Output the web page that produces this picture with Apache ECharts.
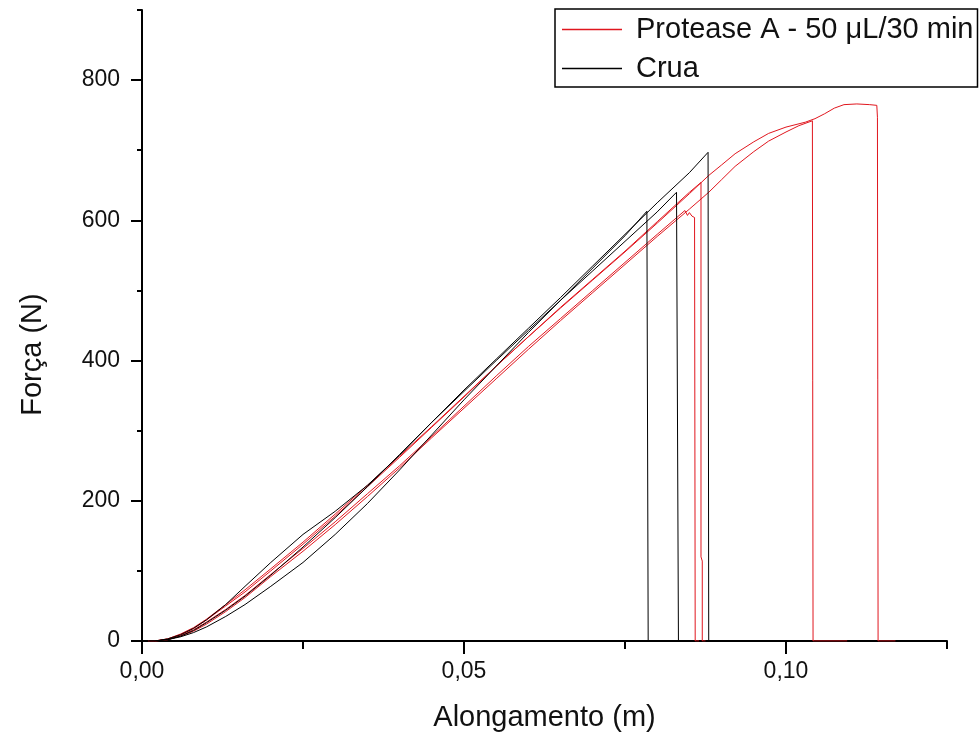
<!DOCTYPE html>
<html>
<head>
<meta charset="utf-8">
<script src="https://cdn.jsdelivr.net/npm/echarts@6/dist/echarts.min.js"></script>
<style>
  html, body { margin: 0; padding: 0; background: #fff; }
  #chart { width: 980px; height: 742px; }
</style>
</head>
<body>
<div id="chart"></div>
<script>
// tick values
const yMajorTicks = [0, 200, 400, 600, 800];
const yMinorTicks = [100, 300, 500, 700, 900];
const xMajorTicks = [0, 0.05, 0.10];
const xMinorTicks = [0.025, 0.075, 0.125];

const proteaseName = 'Protease A - 50 \u03bcL/30 min';
const cruaName = 'Crua';

// Protease A specimens, [alongamento (m), força (N)]
const proteaseA1 = [[0.001,0],[0.002,0],[0.004,2],[0.006,8],[0.008,16],[0.010,27],[0.013,45],[0.016,65],[0.020,95],[0.025,132],[0.030,170],[0.035,210],[0.040,250],[0.045,292],[0.050,335],[0.055,378],[0.060,420],[0.065,460],[0.070,500],[0.075,540],[0.080,580],[0.0843,614],[0.0847,607],[0.0850,611],[0.0854,606],[0.0858,604],[0.0859,0],[0.0865,0]];
const proteaseA2 = [[0.001,0],[0.002,0],[0.004,3],[0.006,9],[0.008,18],[0.010,30],[0.013,50],[0.016,70],[0.020,100],[0.025,138],[0.030,178],[0.035,220],[0.040,262],[0.045,305],[0.050,348],[0.055,392],[0.060,434],[0.065,476],[0.070,516],[0.075,556],[0.080,598],[0.085,640],[0.0868,654],[0.0868,120],[0.0870,114],[0.0870,0],[0.0875,0]];
const proteaseA3 = [[0.001,0],[0.002,0],[0.004,2],[0.006,7],[0.008,14],[0.010,24],[0.013,42],[0.016,62],[0.020,92],[0.025,128],[0.030,166],[0.035,206],[0.040,247],[0.045,290],[0.050,332],[0.055,374],[0.060,416],[0.065,457],[0.070,497],[0.075,537],[0.080,577],[0.085,616],[0.088,640],[0.090,658],[0.0921,677],[0.095,698],[0.0973,713],[0.100,726],[0.102,735],[0.1041,742],[0.1042,0],[0.1095,0]];
const proteaseA4 = [[0.001,0],[0.002,0],[0.004,3],[0.006,10],[0.008,19],[0.010,31],[0.013,52],[0.016,73],[0.020,103],[0.025,141],[0.030,181],[0.035,222],[0.040,264],[0.045,306],[0.050,349],[0.055,392],[0.060,434],[0.065,475],[0.070,515],[0.075,555],[0.080,596],[0.085,638],[0.088,664],[0.090,679],[0.0921,695],[0.095,712],[0.0973,724],[0.100,733],[0.103,740],[0.1045,745],[0.106,752],[0.1075,760],[0.109,765],[0.111,766],[0.113,765],[0.1141,764],[0.1142,747],[0.1143,0],[0.117,0]];

// Crua specimens
const crua1 = [[0.001,0],[0.002,0],[0.004,2],[0.006,6],[0.008,12],[0.010,20],[0.013,35],[0.016,52],[0.020,78],[0.025,112],[0.030,152],[0.035,196],[0.040,244],[0.045,294],[0.050,344],[0.055,392],[0.060,440],[0.065,486],[0.070,532],[0.075,578],[0.0784,613],[0.0786,0],[0.0790,0]];
const crua2 = [[0.001,0],[0.002,0],[0.004,2],[0.006,7],[0.008,15],[0.010,26],[0.013,44],[0.016,64],[0.020,94],[0.025,134],[0.030,176],[0.035,220],[0.040,266],[0.045,312],[0.050,356],[0.055,400],[0.060,443],[0.065,486],[0.070,528],[0.075,570],[0.080,612],[0.083,640],[0.0833,0],[0.0838,0]];
const crua3 = [[0.001,0],[0.002,0],[0.004,3],[0.006,9],[0.008,18],[0.010,30],[0.013,52],[0.016,78],[0.020,112],[0.025,152],[0.030,185],[0.035,222],[0.040,265],[0.045,312],[0.050,358],[0.055,402],[0.060,446],[0.065,490],[0.070,535],[0.075,580],[0.080,625],[0.085,668],[0.0879,697],[0.0880,0],[0.0885,0]];

const proteaseRuns = [proteaseA1, proteaseA2, proteaseA3, proteaseA4];
const cruaRuns = [crua1, crua2, crua3];

const RED = '#e0161e';
const FONT = 'Liberation Sans, Arial, sans-serif';

function makeLine(name, color, data) {
  return {
    name: name,
    type: 'line',
    xAxisIndex: 0,
    yAxisIndex: 0,
    symbol: 'none',
    color: color,
    lineStyle: { color: color, width: 1 },
    data: data
  };
}

const chart = echarts.init(document.getElementById('chart'));
const option = {
  animation: false,
  backgroundColor: '#fff',
  textStyle: { fontFamily: FONT },
  grid: { left: 142, right: 33, top: 10, bottom: 101 },
  legend: {
    data: [proteaseName, cruaName],
    orient: 'vertical',
    left: 555,
    top: 9,
    padding: [6, 4, 4, 7],
    itemGap: 10,
    icon: 'rect',
    itemWidth: 60,
    itemHeight: 1.5,
    borderColor: '#000',
    borderWidth: 1.5,
    borderRadius: 0,
    textStyle: {
      fontFamily: FONT,
      fontSize: 29,
      lineHeight: 29,
      color: '#111',
      padding: [0, 0, 0, 9]
    }
  },
  xAxis: [
    {
      type: 'value',
      position: 'bottom',
      min: 0,
      max: 0.125,
      interval: 0.025,
      name: 'Alongamento (m)',
      nameLocation: 'middle',
      nameGap: 62,
      nameTextStyle: { fontFamily: FONT, fontSize: 29, color: '#111' },
      axisLine: { onZero: false, lineStyle: { color: '#000', width: 2 } },
      axisTick: { customValues: xMajorTicks, length: 13, lineStyle: { color: '#000', width: 2 } },
      axisLabel: {
        customValues: xMajorTicks,
        margin: 19,
        fontSize: 23,
        fontFamily: FONT,
        color: '#111',
        formatter: v => v.toFixed(2).replace('.', ',')
      },
      splitLine: { show: false }
    },
    {
      type: 'value',
      position: 'bottom',
      min: 0,
      max: 0.125,
      interval: 0.025,
      axisLine: { show: false },
      axisTick: { customValues: xMinorTicks, length: 8, lineStyle: { color: '#000', width: 2 } },
      axisLabel: { show: false },
      splitLine: { show: false }
    }
  ],
  yAxis: [
    {
      type: 'value',
      position: 'left',
      min: 0,
      max: 900,
      interval: 100,
      name: 'Força (N)',
      nameLocation: 'middle',
      nameGap: 95,
      nameRotate: 90,
      nameTextStyle: { fontFamily: FONT, fontSize: 29, color: '#111', padding: [0, 58, 0, 0] },
      axisLine: { onZero: false, lineStyle: { color: '#000', width: 2 } },
      axisTick: { customValues: yMajorTicks, length: 11, lineStyle: { color: '#000', width: 2 } },
      axisLabel: {
        customValues: yMajorTicks,
        margin: 22,
        fontSize: 23,
        fontFamily: FONT,
        color: '#111'
      },
      splitLine: { show: false }
    },
    {
      type: 'value',
      position: 'left',
      min: 0,
      max: 900,
      interval: 100,
      axisLine: { show: false },
      axisTick: { customValues: yMinorTicks, length: 5, lineStyle: { color: '#000', width: 2 } },
      axisLabel: { show: false },
      splitLine: { show: false }
    }
  ],
  series: [
    ...proteaseRuns.map(d => makeLine(proteaseName, RED, d)),
    ...cruaRuns.map(d => makeLine(cruaName, '#000', d))
  ]
};
chart.setOption(option);
</script>
</body>
</html>
